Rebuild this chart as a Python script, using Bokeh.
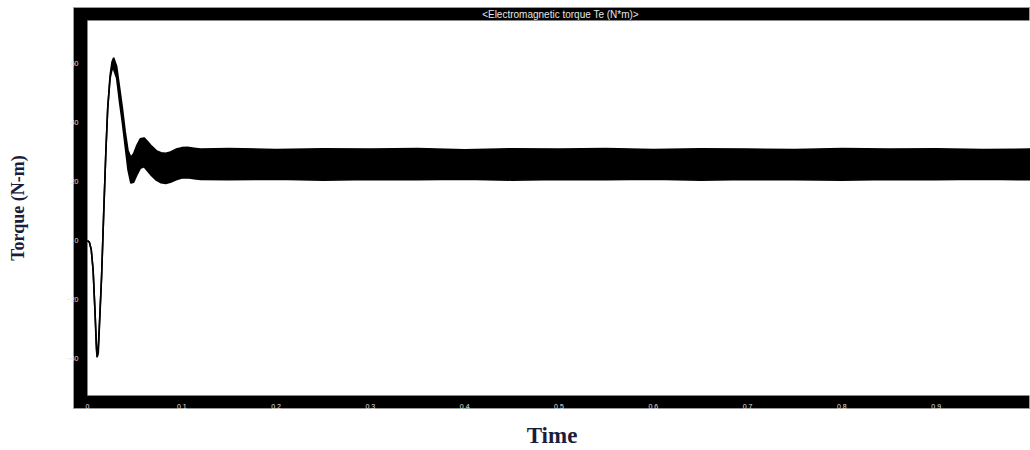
from bokeh.plotting import figure
from bokeh.models import Range1d, BoxAnnotation, FixedTicker, ColumnDataSource, Label
from bokeh.embed import file_html
from bokeh.resources import INLINE

# ---- data ----
time_s = [0.000, 0.002, 0.004, 0.006, 0.008, 0.0095, 0.0103, 0.0115, 0.013, 0.015,
          0.0173, 0.0195, 0.0215, 0.024, 0.026, 0.0278, 0.031, 0.034, 0.037, 0.040,
          0.043, 0.046, 0.049, 0.052, 0.056, 0.060, 0.064, 0.068, 0.073, 0.078,
          0.083, 0.088, 0.094, 0.100, 0.106, 0.113, 0.12, 0.15, 0.2, 0.25,
          0.3, 0.35, 0.4, 0.45, 0.5, 0.55, 0.6, 0.65, 0.7, 0.75,
          0.8, 0.85, 0.9, 0.95, 1.0]
torque_upper = [0, -0.5, -3, -10, -24, -35, -39.5, -36, -26, -12,
                10, 30, 45, 56, 60.5, 62, 59, 52, 45, 37,
                30.5, 28.2, 29.5, 32, 34.5, 34.8, 33.5, 32, 30.5, 29.8,
                29.6, 30, 31, 31.5, 31.6, 31.3, 31.0, 31.2, 30.9, 31.1,
                31.0, 31.2, 30.8, 31.1, 31.0, 31.2, 30.9, 31.1, 31.0, 30.9,
                31.2, 31.0, 31.1, 30.9, 31.0]
torque_lower = [0, -0.5, -3, -10, -24, -37, -39.5, -38, -27, -12,
                10, 30, 45, 55, 58, 58, 55, 47, 40, 32,
                24, 19.5, 19.8, 22, 24.5, 25, 23.5, 22, 20.5, 19.6,
                19.4, 19.8, 20.6, 21.2, 21.3, 21.0, 20.7, 20.6, 20.8, 20.5,
                20.7, 20.6, 20.8, 20.5, 20.7, 20.6, 20.8, 20.5, 20.7, 20.6,
                20.5, 20.7, 20.6, 20.8, 20.6]
x_ticks = [0, 0.1, 0.2, 0.3, 0.4, 0.5, 0.6, 0.7, 0.8, 0.9]
y_ticks = [-40, -20, 0, 20, 40, 60]
scope_title = "<Electromagnetic torque Te (N*m)>"
x_title = "Time"
y_title = "Torque (N-m)"

src = ColumnDataSource(dict(t=time_s, up=torque_upper, lo=torque_lower))

# frame includes the black scope bands; inner white area drawn as underlay box
p = figure(width=1030, height=450, output_backend="svg", toolbar_location=None,
           x_range=Range1d(-0.0148, 1.0), y_range=Range1d(-56.9, 79.0),
           min_border_left=73, min_border_right=0, min_border_top=7, min_border_bottom=42,
           background_fill_color="black", border_fill_color="white")
p.outline_line_color = "#9a9a9a"
p.outline_line_width = 1
p.grid.visible = False

p.add_layout(BoxAnnotation(left=87, right=1031, top=20, bottom=395,
                           left_units="canvas", right_units="canvas",
                           top_units="canvas", bottom_units="canvas",
                           fill_color="white", fill_alpha=1.0,
                           line_color="#9a9a9a", line_width=1, level="underlay"))

p.varea(x="t", y1="lo", y2="up", source=src, fill_color="black")
p.line(x="t", y="up", source=src, line_color="black", line_width=1.6)
p.line(x="t", y="lo", source=src, line_color="black", line_width=1.6)

for ax in (p.xaxis[0], p.yaxis[0]):
    ax.level = "overlay"
    ax.axis_line_color = None
    ax.major_tick_line_color = None
    ax.minor_tick_line_color = None
    ax.major_label_text_color = "#e0e0e0"
    ax.major_label_text_font = "Liberation Sans"
    ax.major_label_text_font_size = "7px"
    ax.axis_label_text_font = "Liberation Serif"
    ax.axis_label_text_font_style = "bold"
    ax.axis_label_text_color = "#1c1c3c"

p.xaxis.ticker = FixedTicker(ticks=x_ticks)
p.yaxis.ticker = FixedTicker(ticks=y_ticks)
p.xaxis.major_label_standoff = -11
p.yaxis.major_label_standoff = -11
p.xaxis.axis_label = x_title
p.xaxis.axis_label_text_font_size = "23px"
p.xaxis.axis_label_standoff = 11
p.yaxis.axis_label = y_title
p.yaxis.axis_label_text_font_size = "18px"
p.yaxis.axis_label_standoff = 36

p.add_layout(Label(x=560, y=13.5, x_units="canvas", y_units="canvas", text=scope_title,
                   text_align="center", text_baseline="middle", text_color="#e6e6e6",
                   text_font="Liberation Sans", text_font_size="10px", level="overlay"))

open("out.html", "w").write(file_html(p, INLINE))
